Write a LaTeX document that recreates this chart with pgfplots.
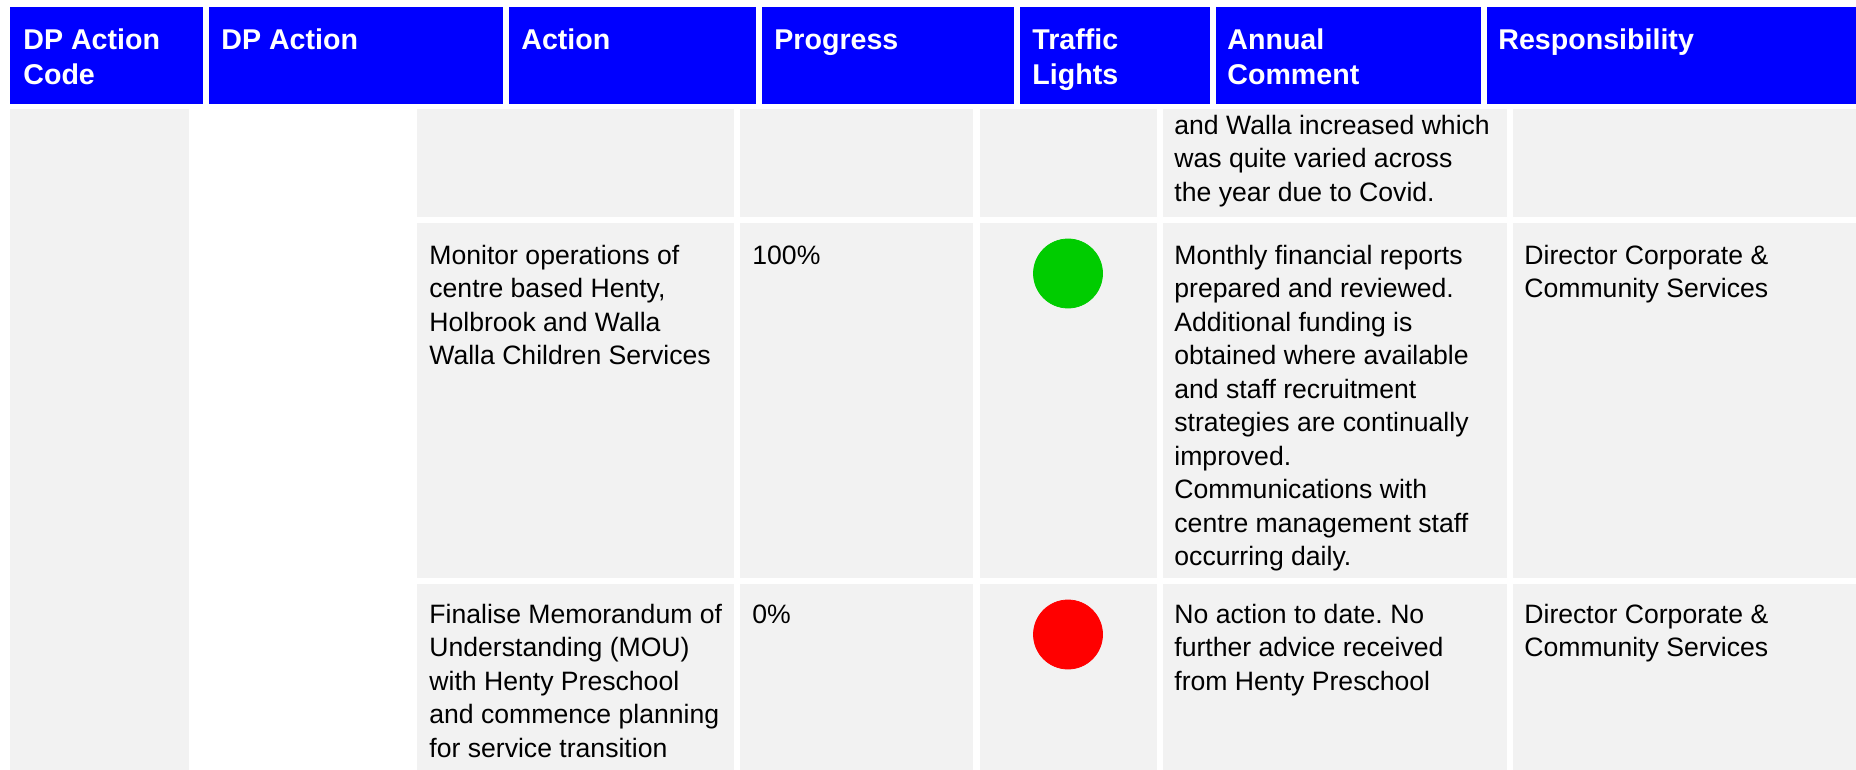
\documentclass[border=0pt]{standalone}
\usepackage{pgfplots}
\pgfplotsset{compat=1.18}
\usepackage{fontspec}
\setmainfont{Liberation Sans}
\frenchspacing
\definecolor{hdr}{HTML}{0000FF}
\definecolor{cellgray}{HTML}{F2F2F2}
\definecolor{tlgreen}{HTML}{00CC00}
\definecolor{tlred}{HTML}{FF0000}
\newcommand{\bodyfont}{\fontsize{13.3pt}{16.75pt}\selectfont}
\newcommand{\hdrfont}{\fontsize{14.3pt}{17.5pt}\selectfont\bfseries\color{white}}
\newcommand{\cell}[1]{\begin{tabular}[t]{@{}l@{}}#1\end{tabular}}
\tikzset{
  body/.style={anchor=base west, inner sep=0pt, font=\bodyfont},
  head/.style={anchor=base west, inner sep=0pt, font=\hdrfont},
}
\begin{document}
\begin{tikzpicture}
\begin{axis}[
  scale only axis, width=928pt, height=385pt,
  xmin=0, xmax=1856, ymin=0, ymax=770, y dir=reverse,
  hide axis, clip=false,
]
\path (axis cs:0,0) rectangle (axis cs:1856,770);
% header cells
\fill[hdr] (axis cs:10,7) rectangle (axis cs:203,104);
\fill[hdr] (axis cs:209,7) rectangle (axis cs:503,104);
\fill[hdr] (axis cs:509,7) rectangle (axis cs:756,104);
\fill[hdr] (axis cs:762,7) rectangle (axis cs:1014,104);
\fill[hdr] (axis cs:1020,7) rectangle (axis cs:1210,104);
\fill[hdr] (axis cs:1216,7) rectangle (axis cs:1481,104);
\fill[hdr] (axis cs:1487,7) rectangle (axis cs:1856,104);
% first column body
\fill[cellgray] (axis cs:10,109) rectangle (axis cs:189,770);
% row 1
\fill[cellgray] (axis cs:417,109) rectangle (axis cs:734,217);
\fill[cellgray] (axis cs:740,109) rectangle (axis cs:973,217);
\fill[cellgray] (axis cs:980,109) rectangle (axis cs:1157,217);
\fill[cellgray] (axis cs:1163,109) rectangle (axis cs:1507,217);
\fill[cellgray] (axis cs:1513,109) rectangle (axis cs:1856,217);
% row 2
\fill[cellgray] (axis cs:417,223) rectangle (axis cs:734,578);
\fill[cellgray] (axis cs:740,223) rectangle (axis cs:973,578);
\fill[cellgray] (axis cs:980,223) rectangle (axis cs:1157,578);
\fill[cellgray] (axis cs:1163,223) rectangle (axis cs:1507,578);
\fill[cellgray] (axis cs:1513,223) rectangle (axis cs:1856,578);
% row 3
\fill[cellgray] (axis cs:417,584) rectangle (axis cs:734,770);
\fill[cellgray] (axis cs:740,584) rectangle (axis cs:973,770);
\fill[cellgray] (axis cs:980,584) rectangle (axis cs:1157,770);
\fill[cellgray] (axis cs:1163,584) rectangle (axis cs:1507,770);
\fill[cellgray] (axis cs:1513,584) rectangle (axis cs:1856,770);
% traffic lights
\addplot[only marks, mark=*, mark size=17.25pt, color=tlgreen, mark options={draw=tlgreen, fill=tlgreen}] coordinates {(1068,273.5)};
\addplot[only marks, mark=*, mark size=17.25pt, color=tlred, mark options={draw=tlred, fill=tlred}] coordinates {(1068,634.5)};
% header text
\node[head] at (axis cs:23,49.3) {\cell{DP Action\\Code}};
\node[head] at (axis cs:221,49.3) {\cell{DP Action}};
\node[head] at (axis cs:521,49.3) {\cell{Action}};
\node[head] at (axis cs:774,49.3) {\cell{Progress}};
\node[head] at (axis cs:1032,49.3) {\cell{Traffic\\Lights}};
\node[head] at (axis cs:1227,49.3) {\cell{Annual\\Comment}};
\node[head] at (axis cs:1498,49.3) {\cell{Responsibility}};
% row 1 text
\node[body] at (axis cs:1174,134.5) {\cell{and Walla increased which\\was quite varied across\\the year due to Covid.}};
% row 2 text
\node[body] at (axis cs:429,264) {\cell{Monitor operations of\\centre based Henty,\\Holbrook and Walla\\Walla Children Services}};
\node[body] at (axis cs:752,264) {\cell{100\%}};
\node[body] at (axis cs:1174,264) {\cell{Monthly financial reports\\prepared and reviewed.\\Additional funding is\\obtained where available\\and staff recruitment\\strategies are continually\\improved.\\Communications with\\centre management staff\\occurring daily.}};
\node[body] at (axis cs:1524,264) {\cell{Director Corporate \&\\Community Services}};
% row 3 text
\node[body] at (axis cs:429,623.3) {\cell{Finalise Memorandum of\\Understanding (MOU)\\with Henty Preschool\\and commence planning\\for service transition}};
\node[body] at (axis cs:752,623.3) {\cell{0\%}};
\node[body] at (axis cs:1174,623.3) {\cell{No action to date. No\\further advice received\\from Henty Preschool}};
\node[body] at (axis cs:1524,623.3) {\cell{Director Corporate \&\\Community Services}};
\end{axis}
\end{tikzpicture}
\end{document}
